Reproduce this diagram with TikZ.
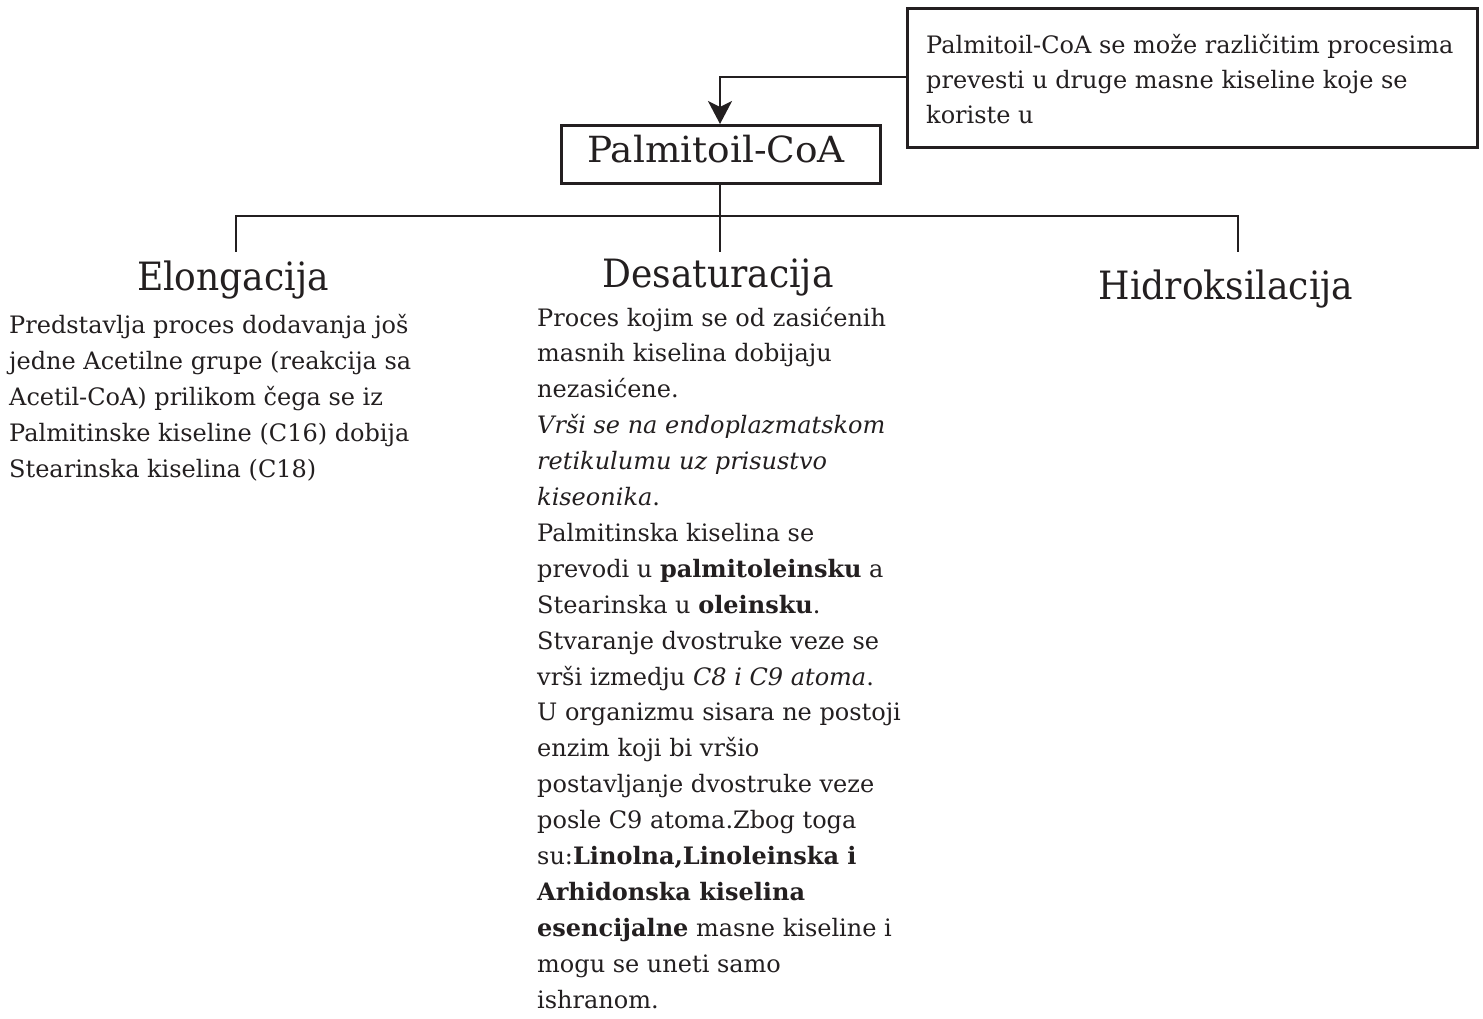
\documentclass[tikz,border=0pt]{standalone}
\usepackage{fontspec}
\setmainfont{DejaVu Serif}
\newfontfamily\headfont[FakeStretch=0.925]{DejaVu Serif}
\newfontfamily\pcfont[FakeStretch=1.04]{DejaVu Serif}
\usetikzlibrary{arrows.meta}
\definecolor{ink}{RGB}{35,31,32}
\begin{document}
\begin{tikzpicture}[x=1pt,y=-1pt, color=ink, text=ink,
  line/.style={line width=2.8pt, line cap=rect},
  box/.style={draw, line width=2.8pt, inner sep=0pt},
  head/.style={inner sep=0pt, anchor=base, font=\headfont\fontsize{39}{46}\selectfont},
  body/.style={inner sep=0pt, anchor=base west, font=\fontsize{24}{36}\selectfont},
]
\useasboundingbox (0,0) rectangle (1483,1018);
% boxes
\node[box, minimum width=319pt, minimum height=58pt, anchor=north west] (pc) at (560,124) {};
\node[inner sep=0pt, anchor=base, font=\pcfont\fontsize{36}{40}\selectfont] (pct) at (716,162) {Palmitoil-CoA};
\node[box, minimum width=570pt, minimum height=139pt, anchor=north west] (note) at (906,7) {};
\node[body, font=\fontsize{24}{35}\selectfont] (notet) at (926,53) {\parbox[t]{540pt}{\raggedright
Palmitoil-CoA se može različitim procesima\\
prevesti u druge masne kiseline koje se\\
koriste u}};
% headings
\node[head] (el) at (233,290) {Elongacija};
\node[head] (de) at (718,287) {Desaturacija};
\node[head] (hi) at (1226,299) {Hidroksilacija};
% tree coordinates
\coordinate (j) at (720,216);
\coordinate (jl) at (236,216);
\coordinate (jr) at (1238,216);
\coordinate (el0) at (236,251);
\coordinate (de0) at (720,251);
\coordinate (hi0) at (1238,251);
\coordinate (bend) at (720,77);
% connectors
\draw[line, -{Stealth[length=23pt,width=24pt,inset=6pt]}] (note.west |- bend) -- (bend) -- (pc.north -| bend);
\draw[line] (pc.south -| j) -- (j);
\draw[line] (el0) -- (jl) -- (jr) -- (hi0);
\draw[line] (j) -- (de0);
% bodies
\node[body] (elt) at (9,333) {\parbox[t]{500pt}{\raggedright
Predstavlja proces dodavanja još\\
jedne Acetilne grupe (reakcija sa\\
Acetil-CoA) prilikom čega se iz\\
Palmitinske kiseline (C16) dobija\\
Stearinska kiselina (C18)}};
\node[body, font=\fontsize{24}{35.9}\selectfont] (det) at (537,326) {\parbox[t]{500pt}{\raggedright
Proces kojim se od zasićenih\\
masnih kiselina dobijaju\\
nezasićene.\\
\textit{Vrši se na endoplazmatskom\\
retikulumu uz prisustvo\\
kiseonika}.\\
Palmitinska kiselina se\\
prevodi u \textbf{palmitoleinsku} a\\
Stearinska u \textbf{oleinsku}.\\
Stvaranje dvostruke veze se\\
vrši izmedju \textit{C8 i C9 atoma}.\\
U organizmu sisara ne postoji\\
enzim koji bi vršio\\
postavljanje dvostruke veze\\
posle C9 atoma.Zbog toga\\
su:\textbf{Linolna,Linoleinska i\\
Arhidonska kiselina\\
esencijalne} masne kiseline i\\
mogu se uneti samo\\
ishranom.}};
\end{tikzpicture}
\end{document}
